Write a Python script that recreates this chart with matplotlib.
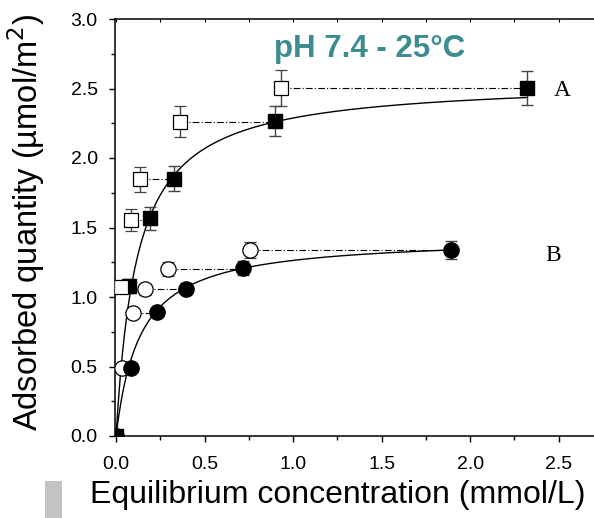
import matplotlib
matplotlib.use("Agg")
import matplotlib.pyplot as plt
import numpy as np
from matplotlib.ticker import MultipleLocator

# Series A (squares)
a_open_x = [0.03, 0.083, 0.136, 0.362, 0.93]
a_open_y = [1.07, 1.555, 1.847, 2.262, 2.504]
a_open_err = [0.04, 0.08, 0.09, 0.11, 0.13]
a_fill_x = [0.0, 0.072, 0.194, 0.33, 0.90, 2.324]
a_fill_y = [0.0, 1.08, 1.565, 1.85, 2.265, 2.504]
a_fill_err = [0.0, 0.05, 0.08, 0.09, 0.11, 0.125]

# Series B (circles)
b_open_x = [0.036, 0.096, 0.164, 0.292, 0.759]
b_open_y = [0.49, 0.883, 1.057, 1.204, 1.338]
b_open_err = [0.02, 0.03, 0.04, 0.05, 0.06]
b_fill_x = [0.0, 0.085, 0.23, 0.395, 0.716, 1.893]
b_fill_y = [0.0, 0.49, 0.89, 1.06, 1.21, 1.335]
b_fill_err = [0.0, 0.02, 0.03, 0.04, 0.05, 0.065]

# Langmuir fit parameters (qmax, K) and fit range
a_qmax, a_K, a_cmax = 2.56, 8.4, 2.324
b_qmax, b_K, b_cmax = 1.434, 7.4, 1.893

fig = plt.figure(figsize=(5.94, 5.18), dpi=100)
ax = fig.add_axes([115/594, 82/518, 479/594, 417/518])

err_kw = dict(ecolor="#444444", elinewidth=1.0, capsize=4, capthick=1.0)
dashdot = (0, (6, 2, 1, 2))

# connecting dash-dot lines
for xo, yo, xf in zip(a_open_x, a_open_y, a_fill_x[1:]):
    ax.plot([xo, xf], [yo, yo], color="black", lw=0.8, ls=dashdot, zorder=2)
for xo, yo, xf in zip(b_open_x, b_open_y, b_fill_x[1:]):
    ax.plot([xo, xf], [yo, yo], color="black", lw=0.8, ls=dashdot, zorder=2)

# fitted curves
ca = np.linspace(0, a_cmax, 400)
ax.plot(ca, a_qmax * a_K * ca / (1 + a_K * ca), color="black", lw=1.0, zorder=2)
cb = np.linspace(0, b_cmax, 400)
ax.plot(cb, b_qmax * b_K * cb / (1 + b_K * cb), color="black", lw=1.0, zorder=2)

ax.errorbar(a_fill_x, a_fill_y, yerr=a_fill_err, fmt="s", ms=10, mfc="black",
            mec="black", zorder=3, **err_kw)
ax.errorbar(a_open_x, a_open_y, yerr=a_open_err, fmt="s", ms=10, mfc="white",
            mec="black", mew=0.9, zorder=4, **err_kw)
ax.errorbar(b_open_x, b_open_y, yerr=b_open_err, fmt="o", ms=11, mfc="white",
            mec="black", mew=0.9, zorder=3, **err_kw)
ax.errorbar(b_fill_x, b_fill_y, yerr=b_fill_err, fmt="o", ms=11, mfc="black",
            mec="black", zorder=4, **err_kw)

ax.text(2.475, 2.484, "A", family="Liberation Serif", fontsize=17, va="center", ha="left")
ax.text(2.428, 1.295, "B", family="Liberation Serif", fontsize=17, va="center", ha="left")

ax.text(1.43, 2.727, "pH 7.4 - 25°C", color="#3C8C91", fontsize=22.5, fontweight="bold",
        family="Liberation Sans", ha="center", va="baseline")

ax.set_xlim(-0.006, 2.70)
ax.set_ylim(0, 3.0)
ax.xaxis.set_minor_locator(MultipleLocator(0.25))
ax.yaxis.set_minor_locator(MultipleLocator(0.25))
ax.set_xticks(np.arange(0, 2.51, 0.5))
ax.set_xticklabels(["0.0", "0.5", "1.0", "1.5", "2.0", "2.5"])
ax.set_yticks(np.arange(0, 3.01, 0.5))
ax.set_yticklabels(["0.0", "0.5", "1.0", "1.5", "2.0", "2.5", "3.0"])

ax.spines["right"].set_visible(False)
for s in ("left", "bottom", "top"):
    ax.spines[s].set_linewidth(1.1)

ax.tick_params(axis="both", which="major", direction="out", length=4.5, width=1.0,
               labelsize=14)
ax.tick_params(axis="x", which="major", pad=10)
ax.tick_params(axis="y", which="major", pad=8)
ax.tick_params(axis="both", which="minor", direction="out", length=2.8, width=1.0)
for lbl in ax.get_xticklabels() + ax.get_yticklabels():
    lbl.set_family("Liberation Sans")

# top spine short inward ticks
sec = ax.secondary_xaxis("top")
sec.set_xticks(np.arange(0, 2.71, 0.25))
sec.tick_params(direction="in", length=2.5, width=0.8, labeltop=False)
sec.spines["top"].set_visible(False)

fig.text(38/594, 1 - 222/518, "Adsorbed quantity (µmol/m$^2$)", fontsize=23.5,
         family="Liberation Sans", rotation=90, ha="center", va="baseline",
         rotation_mode="anchor")
fig.text(338/594, 1 - 503/518, "Equilibrium concentration (mmol/L)", fontsize=23,
         family="Liberation Sans", ha="center", va="baseline")

# grey artifact block at lower left
fig.patches.append(plt.Rectangle((45/594, 0), 17/594, 37/518, transform=fig.transFigure,
                                 facecolor="#c3c3c3", edgecolor="none", figure=fig))

fig.savefig("out.png", dpi=100)
